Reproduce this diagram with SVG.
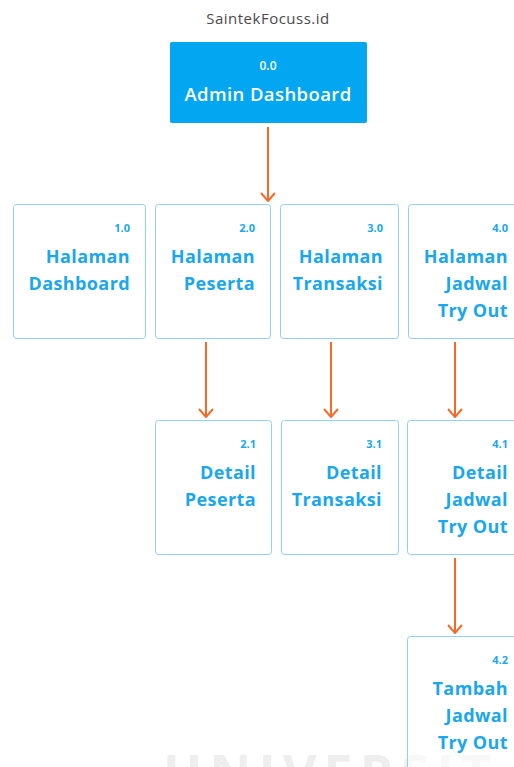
<svg xmlns="http://www.w3.org/2000/svg" width="514" height="767" viewBox="0 0 514 767">
  <defs>
    <style>
      .title { font-family: "Open Sans", "Noto Sans", sans-serif; font-size: 15px; fill: #4a4a4a; text-anchor: middle; letter-spacing: 0.5px; }
      .root-box { fill: #03a6f0; }
      .root-num { font-family: "Open Sans", "Noto Sans", sans-serif; font-size: 12px; font-weight: 600; fill: #ffffff; text-anchor: middle; }
      .root-label { font-family: "Open Sans", "Noto Sans", sans-serif; font-size: 18.5px; font-weight: 600; fill: #ffffff; text-anchor: middle; letter-spacing: 0.4px; }
      .box { fill: #ffffff; stroke: #8fd0f3; stroke-width: 1; }
      .num { font-family: "Open Sans", "Noto Sans", sans-serif; font-size: 11px; font-weight: 700; fill: #1aa7ee; text-anchor: end; }
      .label { font-family: "Open Sans", "Noto Sans", sans-serif; font-size: 18px; font-weight: 700; fill: #1aa7ee; text-anchor: end; letter-spacing: 0.4px; }
      .wire { stroke: #f26b2a; stroke-width: 2; fill: none; }
      .watermark { font-family: "Open Sans", "Noto Sans", sans-serif; font-size: 52px; font-weight: 700; fill: #eeeeee; letter-spacing: 7px; }
    </style>
    <marker id="chevron" viewBox="0 0 10 16" refX="9" refY="8" markerWidth="10" markerHeight="16" markerUnits="userSpaceOnUse" orient="auto">
      <path d="M1,1 L9,8 L1,15" fill="none" stroke="#f26b2a" stroke-width="2"/>
    </marker>
  </defs>

  <rect width="514" height="767" fill="#ffffff"/>

  <!-- background watermark -->
  <text class="watermark" x="163" y="792">UNIVERSIT</text>

  <text class="title" x="268" y="24">SaintekFocuss.id</text>

  <!-- connectors -->
  <g id="connectors">
    <line class="wire" x1="268" y1="127" x2="268" y2="201" marker-end="url(#chevron)"/>
    <line class="wire" x1="206" y1="342" x2="206" y2="417" marker-end="url(#chevron)"/>
    <line class="wire" x1="331" y1="342" x2="331" y2="417" marker-end="url(#chevron)"/>
    <line class="wire" x1="455" y1="342" x2="455" y2="417" marker-end="url(#chevron)"/>
    <line class="wire" x1="455" y1="558" x2="455" y2="633" marker-end="url(#chevron)"/>
  </g>

  <g id="node-0-0">
    <rect class="root-box" x="170" y="42" width="197" height="81" rx="2"/>
    <text class="root-num" x="268" y="70">0.0</text>
    <text class="root-label" x="268" y="101">Admin Dashboard</text>
  </g>

  <g id="node-1-0">
    <rect class="box" x="13.5" y="204.5" width="132" height="134" rx="3"/>
    <text class="num" x="130" y="232">1.0</text>
    <text class="label" x="130" y="263">Halaman</text>
    <text class="label" x="130" y="290">Dashboard</text>
  </g>

  <g id="node-2-0">
    <rect class="box" x="155.5" y="204.5" width="115" height="134" rx="3"/>
    <text class="num" x="255" y="232">2.0</text>
    <text class="label" x="255" y="263">Halaman</text>
    <text class="label" x="255" y="290">Peserta</text>
  </g>

  <g id="node-3-0">
    <rect class="box" x="280.5" y="204.5" width="118" height="134" rx="3"/>
    <text class="num" x="383" y="232">3.0</text>
    <text class="label" x="383" y="263">Halaman</text>
    <text class="label" x="383" y="290">Transaksi</text>
  </g>

  <g id="node-4-0">
    <rect class="box" x="408.5" y="204.5" width="120" height="134" rx="3"/>
    <text class="num" x="508" y="232">4.0</text>
    <text class="label" x="508" y="263">Halaman</text>
    <text class="label" x="508" y="290">Jadwal</text>
    <text class="label" x="508" y="317">Try Out</text>
  </g>

  <g id="node-2-1">
    <rect class="box" x="155.5" y="420.5" width="116" height="134" rx="3"/>
    <text class="num" x="256" y="448">2.1</text>
    <text class="label" x="256" y="479">Detail</text>
    <text class="label" x="256" y="506">Peserta</text>
  </g>

  <g id="node-3-1">
    <rect class="box" x="281.5" y="420.5" width="117" height="134" rx="3"/>
    <text class="num" x="382" y="448">3.1</text>
    <text class="label" x="382" y="479">Detail</text>
    <text class="label" x="382" y="506">Transaksi</text>
  </g>

  <g id="node-4-1">
    <rect class="box" x="407.5" y="420.5" width="120" height="134" rx="3"/>
    <text class="num" x="508" y="448">4.1</text>
    <text class="label" x="508" y="479">Detail</text>
    <text class="label" x="508" y="506">Jadwal</text>
    <text class="label" x="508" y="533">Try Out</text>
  </g>

  <g id="node-4-2">
    <rect class="box" x="407.5" y="636.5" width="120" height="150" rx="3" fill-opacity="0.6"/>
    <text class="num" x="508" y="664">4.2</text>
    <text class="label" x="508" y="695">Tambah</text>
    <text class="label" x="508" y="722">Jadwal</text>
    <text class="label" x="508" y="749">Try Out</text>
  </g>
</svg>
